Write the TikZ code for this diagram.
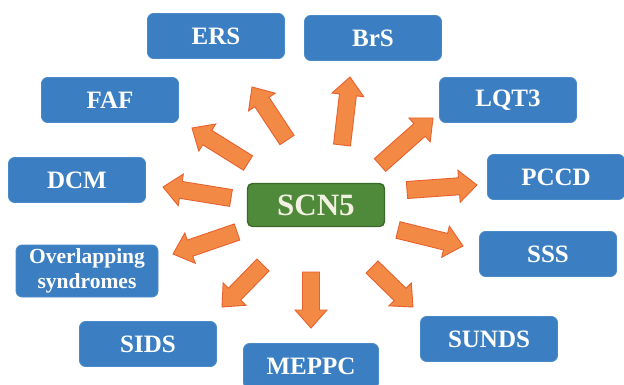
\documentclass[tikz,border=0pt]{standalone}
\usepackage{fontspec}
\setmainfont{Liberation Serif}
\newfontfamily\boxfont{Liberation Serif Bold}
\usetikzlibrary{calc}
\definecolor{boxblue}{HTML}{3B7FC2}
\definecolor{boxblueline}{HTML}{4A8AC8}
\definecolor{scngreen}{HTML}{4F8A3A}
\definecolor{scnline}{HTML}{3A6A2A}
\definecolor{scntext}{HTML}{F2F0E2}
\definecolor{arrfill}{HTML}{F28A45}
\definecolor{arrline}{HTML}{E8602E}
\tikzset{
  dbox/.style={draw=boxblueline, line width=0.8pt, fill=boxblue, rounded corners=6pt,
    minimum width=137pt, minimum height=45pt, inner sep=0pt, text=white,
    font=\boxfont\fontsize{25}{28}\selectfont, align=center},
  genebox/.style={draw=scnline, line width=1.4pt, fill=scngreen, rounded corners=5pt,
    minimum width=137pt, minimum height=43pt, inner sep=0pt, text=scntext,
    font=\boxfont\fontsize{31}{34}\selectfont},
  barrow/.style={draw=arrline, line width=0.9pt, fill=arrfill, line join=miter}
}
\newcommand{\blockarr}[2]{%
  \path (#1) coordinate (ba-a) (#2) coordinate (ba-b);
  \path ($(ba-b)!18pt!(ba-a)$) coordinate (ba-c);
  \draw[barrow] ($(ba-a)!8.5pt!90:(ba-b)$) -- ($(ba-c)!8.5pt!-90:(ba-a)$)
    -- ($(ba-c)!16pt!-90:(ba-a)$) -- (ba-b) -- ($(ba-c)!16pt!90:(ba-a)$)
    -- ($(ba-c)!8.5pt!90:(ba-a)$) -- ($(ba-a)!8.5pt!-90:(ba-b)$) -- cycle;}
\begin{document}
\begin{tikzpicture}[x=1pt,y=-1pt]
\path[use as bounding box, clip] (0,0) rectangle (624,385);
\fill[white] (0,0) rectangle (624,385);
% nodes
\node[genebox] (scn) at (316,205) {SCN5};
\node[dbox] (ers) at (216,36) {ERS};
\node[dbox] (brs) at (373,38) {BrS};
\node[dbox] (faf) at (110,100) {FAF};
\node[dbox] (lqt) at (508,100) {LQT3};
\node[dbox] (dcm) at (77,180) {DCM};
\node[dbox] (pccd) at (556,177) {PCCD};
\node[dbox, minimum width=142pt, minimum height=52pt, font=\boxfont\fontsize{21.5}{25}\selectfont] (ovl) at (87,271) {Overlapping\\syndromes};
\node[dbox] (sss) at (548,254) {SSS};
\node[dbox] (sids) at (148,344) {SIDS};
\node[dbox, minimum width=135pt] (meppc) at (311,366) {MEPPC};
\node[dbox] (sunds) at (489,339) {SUNDS};
% arrow ends
\coordinate (t-ers) at (287,140);   \coordinate (h-ers) at (252,87);
\coordinate (t-brs) at (342,145);   \coordinate (h-brs) at (350,77);
\coordinate (t-faf) at (248,163);   \coordinate (h-faf) at (192,128);
\coordinate (t-lqt) at (380,165);   \coordinate (h-lqt) at (433,118);
\coordinate (t-dcm) at (231,198);   \coordinate (h-dcm) at (163,187);
\coordinate (t-pccd) at (407,190);  \coordinate (h-pccd) at (477,185);
\coordinate (t-ovl) at (237,232);   \coordinate (h-ovl) at (173,254);
\coordinate (t-sss) at (398,230);   \coordinate (h-sss) at (463,246);
\coordinate (t-sids) at (263,265);  \coordinate (h-sids) at (222,307);
\coordinate (t-meppc) at (311,272); \coordinate (h-meppc) at (311,328);
\coordinate (t-sunds) at (372,267); \coordinate (h-sunds) at (413,307);
\foreach \n in {ers,brs,faf,lqt,dcm,pccd,ovl,sss,sids,meppc,sunds}{\blockarr{t-\n}{h-\n}}
\end{tikzpicture}
\end{document}
